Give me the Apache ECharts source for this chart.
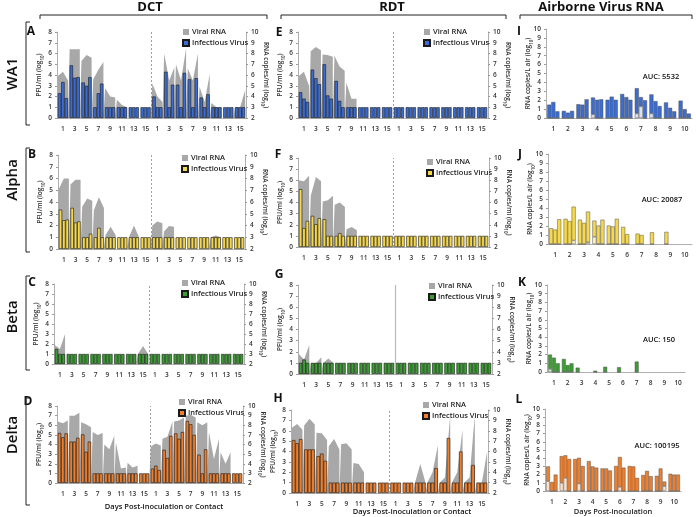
<!DOCTYPE html>
<html><head><meta charset="utf-8">
<script src="https://cdn.jsdelivr.net/npm/echarts@6/dist/echarts.min.js"></script>
<style>html,body{margin:0;padding:0;background:#fff}#c{width:696px;height:517px}</style>
</head><body><div id="c"></div>
<script>
// ---------- categories / tick labels ----------
const dayLabels = ['1','3','5','7','9','11','13','15','1','3','5','7','9','11','13','15'];
const airDays = ['1','2','3','4','5','6','7','8','9','10'];

// ---------- Infectious virus, PFU/ml (log10): 16 sample days (8 inoculated | 8 contact) x 3 animals ----------
const pfuA = [[2.3,3.35,1.85],[4.9,3.75,3.8],[3.3,3.0,3.8],[1,2.3,3.2],[1,1,1],[1,1,1],[1,1,1],[1,1,1],
              [2.0,1,1],[4.3,1,3.1],[3.1,1,4.2],[3.6,1,3.7],[1.9,1,2.2],[1,1,1],[1,1,1],[1,1,1]];
const pfuE = [[2.4,1.8,1.5],[4.5,3.7,3.15],[5.0,2.1,1.8],[3.45,1.6,1],[1,1,1],[1,1,1],[1,1,1],[1,1,1],
              [1,1,1],[1,1,1],[1,1,1],[1,1,1],[1,1,1],[1,1,1],[1,1,1],[1,1,1]];
const pfuB = [[3.35,2.45,2.5],[3.5,2.25,2.35],[1,1,1.3],[1,1.8,1],[1,1,1],[1,1,1],[1,1,1],[1,1,1],
              [1,1,1],[1,1,1],[1,1,1],[1,1,1],[1,1,1],[1,1,1],[1,1,1],[1,1,1]];
const pfuF = [[5.2,1.7,2.35],[2.8,2.05,2.6],[2.5,1,1],[1,1.25,1],[1,1,1],[1,1,1],[1,1,1],[1,1,1],
              [1,1,1],[1,1,1],[1,1,1],[1,1,1],[1,1,1],[1,1,1],[1,1,1],[1,1,1]];
const pfuC = [[1.5,1,1],[1,1,1],[1,1,1],[1,1,1],[1,1,1],[1,1,1],[1,1,1],[1,1,1],
              [1,1,1],[1,1,1],[1,1,1],[1,1,1],[1,1,1],[1,1,1],[1,1,1],[1,1,1]];
const pfuG = [[1,1.3,1],[1,1,1],[1,1,1],[1,1,1],[1,1,1],[1,1,1],[1,1,1],[1,1,1],
              [1,1,1],[1,1,1],[1,1,1],[1,1,1],[1,1,1],[1,1,1],[1,1,1],[1,1,1]];
const pfuD = [[5.2,4.75,5.15],[4.3,4.3,4.7],[5.05,3.25,4.3],[1,1,1],[1,1,1],[1,1,1],[1,1,1],[1,1,1],
              [1.5,1.8,1.35],[3.45,2.6,4.9],[5.15,4.6,5.3],[6.45,6.1,5.0],[2.95,1,3.5],[1,1,1],[1,1,1],[1,1,1]];
const pfuH = [[5.1,4.8,5.2],[4.2,4.2,4.2],[3.55,3.8,3.1],[1,1,1],[1,1,1],[1,1,1],[1,1,1],[1,1,1],
              [1,1,1],[1,1,1],[1,1,1],[1,1,2.4],[1,1,5.3],[1,1,4.0],[1,1,2.7],[1,1,1]];

// ---------- Viral RNA, copies/ml (log10), right axis ----------
const rnaA = [[5.9,6.3,5.5],[8.4,8.4,8.4],[7.3,7.85,7.6],[5.6,6.5,7.2],[4.8,4.0,3.9],[3.7,3.2,3.0],[2,2,2],[2,2,2],
              [5.2,4.0,3.5],[8.0,5.5,6.7],[7.0,5.5,8.5],[6.6,5.5,8.0],[4.9,3.5,6.1],[3.4,3,3],[2,2,2],[3,3,4.6]];
const rnaE = [[5.9,6.3,5.0],[8.2,8.6,8.3],[7.9,7.85,7.7],[7.8,6.8,6.4],[5.3,3.8,3.8],[2,2,2],[2,2,2],[2,2,2],
              [2,2,2],[2,2,2],[2,2,2],[2,2,2],[2,2,2],[2,2,2],[2,2,2],[2,2,2]];
const rnaB = [[7.1,8.0,8.0],[7.5,7.9,7.9],[5.6,6.3,6.1],[5.3,6.4,5.5],[3.2,3.9,3.2],[2,2,2],[3,4.0,3],[2,2,2],
              [4.0,4.35,4.2],[3.5,3.95,3.9],[2,2,2],[2,2,2],[2,2,2],[3,3.15,3],[2,2,2],[2,2,2]];
const rnaF = [[8.0,7.9,8.4],[6.6,8.3,7.9],[6.1,6.2,6.6],[5.8,6.0,5.6],[3.6,3.8,3.5],[2,2,2],[2,2,2],[2,2,2],
              [2,2,2],[2,2,2],[2,2,2],[2,2,2],[2,2,2],[2,2,2],[2,2,2],[2,2,2]];
const rnaC = [[3.9,3.5,5.0],[2,2,2],[2,2,2],[2,2,2],[2,2,2],[2,2,2],[2,2,2],[3,3.8,3],
              [2,2,2],[2,2,2],[2,2,2],[2,2,2],[2,2,2],[2,2,2],[2,2,2],[2,2,2]];
const rnaG = [[3.8,3.3,4.6],[3,3,3.5],[3,3.4,3],[2,2,2],[2,2,2],[2,2,2],[2,2,2],[2,2,2],
              [2,2,2],[2,2,2],[2,2,2],[2,2,2],[2,2,2],[2,2,2],[2,2,2],[2,2,2]];
const rnaD = [[8.4,8.2,8.5],[9.0,9.0,9.3],[8.3,8.1,7.8],[7.3,7.0,7.2],[6.0,5.5,6.9],[6.2,3.5,3.6],[4.1,3.6,3.8],[2,2,2],
              [5.8,6.1,5.9],[6.6,6.8,8.4],[8.4,8.5,8.8],[9.0,9.1,8.8],[8.3,8.0,8.3],[7.3,4.5,6.6],[5.2,4.0,5.2],[2,2,2]];
const rnaH = [[8.3,8.65,8.1],[8.5,9.15,8.6],[7.8,7.75,7.1],[6.5,7.2,6.2],[6.7,6.8,6.2],[4.9,4.8,4.0],[2,2,2],[2,2,2],
              [2,2,2],[2,2,2],[3,4.8,3],[3,4.0,6.6],[3,3.5,9.5],[3,4.0,8.1],[3,3.5,9.5],[3,3,6.0]];

// ---------- Airborne virus RNA, copies/L air (log10): 10 days x 3 samples ----------
const airI = [[1.5,1.8,0.75],[0.8,0.6,0.8],[1.55,1.5,2.1],[2.3,2.05,2.1],[2.05,2.4,2.05],[2.7,2.35,2.05],[3.35,2.35,2.0],[2.65,1.9,1.35],[1.75,1.15,0.75],[1.95,1.0,0.5]];
const airJ = [[1.75,1.6,2.75],[2.8,2.55,4.15],[2.7,2.35,3.6],[2.6,2.05,2.7],[2.05,1.95,2.8],[1.9,1.1,null],[1.15,1.0,null],[1.3,null,null],[1.35,null,null],[null,null,null]];
const airK = [[2.0,1.65,1.0],[1.5,0.8,1.0],[0.5,null,null],[null,0.15,null],[0.6,null,null],[0.55,null,null],[null,1.2,null],[null,null,null],[null,null,null],[null,null,null]];
const airL = [[3.0,1.1,2.0],[4.25,4.35,3.9],[3.9,4.05,3.05],[3.65,3.0,2.85],[2.75,2.75,2.5],[3.05,4.15,2.85],[3.05,3.0,1.6],[1.95,2.45,1.8],[1.85,2.75,1.15],[2.1,2.0,2.0]];
// lower (hatched) portions: [day, sample (0-2), value]
const hatchI = [[4,0,0.4],[7,0,0.5],[7,1,1.3],[8,0,0.5]];
const hatchJ = [[2,2,0.4],[3,2,0.2],[4,0,0.8]];
const hatchK = [[1,0,0.35]];
const hatchL = [[1,0,1.2],[2,0,1.0],[2,1,1.6],[3,1,0.9],[6,1,0.5],[9,2,0.6]];
const aucLabels = ['AUC: 5532','AUC: 20087','AUC: 150','AUC: 100195'];

// ---------- styling ----------
const FONT = 'Open Sans';
const COL = {WA1:'#3c6cd0', Alpha:'#f5d84e', Beta:'#3b9d33', Delta:'#ee7f2e'};
const HATCH = {WA1:'#d9e2f5', Alpha:'#fcf3c6', Beta:'#d4ecd0', Delta:'#fbe0cb'};
const GREY = '#a8a8a8';
const AXC = '#9a9a9a';
const lbl = {fontSize:6.5, color:'#333', fontFamily:FONT, fontWeight:600};

const panels = [
  {id:'A', pfu:pfuA, rna:rnaA, col:COL.WA1,   box:[57,32,189,86],  leg:[182,28]},
  {id:'E', pfu:pfuE, rna:rnaE, col:COL.WA1,   box:[298,32,190,86], leg:[423,28]},
  {id:'B', pfu:pfuB, rna:rnaB, col:COL.Alpha, box:[58,155,187,94], leg:[181,154]},
  {id:'F', pfu:pfuF, rna:rnaF, col:COL.Alpha, box:[298,158,191,89],leg:[426,158]},
  {id:'C', pfu:pfuC, rna:rnaC, col:COL.Beta,  box:[54,284,190,80], leg:[181,279]},
  {id:'G', pfu:pfuG, rna:rnaG, col:COL.Beta,  box:[298,285,194,89],leg:[428,282], solidDiv:true},
  {id:'D', pfu:pfuD, rna:rnaD, col:COL.Delta, box:[57,406,186,77], leg:[178,398]},
  {id:'H', pfu:pfuH, rna:rnaH, col:COL.Delta, box:[291,410,197,83],leg:[422,401]}
];
const airPanels = [
  {id:'I', d:airI, h:hatchI, col:COL.WA1,   hc:HATCH.WA1,   box:[546,29,146,89]},
  {id:'J', d:airJ, h:hatchJ, col:COL.Alpha, hc:HATCH.Alpha, box:[548,154,144,90]},
  {id:'K', d:airK, h:hatchK, col:COL.Beta,  hc:HATCH.Beta,  box:[547,285,138,87]},
  {id:'L', d:airL, h:hatchL, col:COL.Delta, hc:HATCH.Delta, box:[545,409,136,83]}
];

const grid=[], xAxis=[], yAxis=[], series=[], legend=[];
const sub = {s:{fontSize:4.5, fontFamily:FONT, fontWeight:600, color:'#333', verticalAlign:'bottom', padding:[0,0,-2,0]}};

panels.forEach((p,i)=>{
  const [l,t,w,h]=p.box;
  grid.push({left:l, top:t, width:w, height:h});
  const gi = grid.length-1;
  const xc = xAxis.length;
  xAxis.push({type:'category', gridIndex:gi, data:dayLabels, boundaryGap:true,
    axisLine:{lineStyle:{color:AXC,width:0.8}}, axisTick:{show:false},
    axisLabel:{...lbl, interval:0, margin:8}});
  xAxis.push({type:'value', gridIndex:gi, min:0, max:16, show:false});
  const yl = yAxis.length;
  yAxis.push({type:'value', gridIndex:gi, min:0, max:8, interval:1, position:'left',
    axisLine:{show:true, lineStyle:{color:AXC,width:0.8}}, axisTick:{show:true,length:2,lineStyle:{color:AXC}},
    splitLine:{show:false}, axisLabel:{...lbl, margin:5},
    name:'PFU/ml (log{s|10})', nameLocation:'middle', nameGap:14, nameRotate:90, nameMoveOverlap:false,
    nameTextStyle:{fontSize:6.5, fontFamily:FONT, fontWeight:600, color:'#333', rich:sub}});
  yAxis.push({type:'value', gridIndex:gi, min:2, max:10, interval:1, position:'right',
    axisLine:{show:true, lineStyle:{color:AXC,width:0.8}}, axisTick:{show:true,length:2,lineStyle:{color:AXC}},
    splitLine:{show:false}, axisLabel:{...lbl, margin:5},
    name:'RNA copies/ml (log{s|10})', nameLocation:'middle', nameGap:16, nameRotate:-90, nameMoveOverlap:false,
    nameTextStyle:{fontSize:6.5, fontFamily:FONT, fontWeight:600, color:'#333', rich:sub}});
  // viral RNA area: per-animal points within each sampling day
  const pts=[];
  p.rna.forEach((r,g)=>{
    pts.push([g+0.07,2],[g+0.07,r[0]],[g+0.5,r[1]],[g+0.93,r[2]],[g+0.93,2]);
  });
  series.push({type:'line', name:'Viral RNA|'+p.id, xAxisIndex:xc+1, yAxisIndex:yl+1, data:pts,
    showSymbol:false, symbol:'none', lineStyle:{width:0}, color:GREY, itemStyle:{color:GREY},
    areaStyle:{color:GREY, opacity:1}, z:1, silent:true, animation:false,
    markLine:{silent:true, symbol:'none', label:{show:false},
      lineStyle: p.solidDiv ? {color:'#bbb', type:'solid', width:1.2} : {color:'#888', type:[2,2], width:0.8},
      data:[{xAxis:8}]}});
  for(let k=0;k<3;k++){
    series.push({type:'bar', name:'Infectious Virus|'+p.id, xAxisIndex:xc, yAxisIndex:yl,
      data:p.pfu.map(g=>g[k]), barGap:'0%', barCategoryGap:'14%',
      itemStyle:{color:p.col, borderColor:'#1a1a1a', borderWidth:0.6}, z:3, animation:false});
  }
  legend.push({orient:'vertical', left:p.leg[0], top:p.leg[1], itemWidth:6, itemHeight:6, itemGap:3,
    icon:'rect', selectedMode:false, padding:0,
    data:['Viral RNA|'+p.id, 'Infectious Virus|'+p.id],
    formatter:n=>n.split('|')[0],
    textStyle:{fontSize:7.5, fontFamily:FONT, fontWeight:600, color:'#222', padding:[0,0,0,-2]}});
});

airPanels.forEach((p,i)=>{
  const [l,t,w,h]=p.box;
  grid.push({left:l, top:t, width:w, height:h});
  const gi = grid.length-1;
  const xc = xAxis.length;
  xAxis.push({type:'category', gridIndex:gi, data:airDays, boundaryGap:true,
    axisLine:{lineStyle:{color:AXC,width:0.8}}, axisTick:{show:false},
    axisLabel:{...lbl, interval:0, margin:8},
    name: p.id==='L' ? 'Days Post-inoculation' : '', nameLocation:'middle', nameGap:17,
    nameTextStyle:{fontSize:7.5, fontFamily:FONT, fontWeight:600, color:'#222'}});
  const yl = yAxis.length;
  yAxis.push({type:'value', gridIndex:gi, min:0, max:10, interval:1,
    axisLine:{show:true, lineStyle:{color:AXC,width:0.8}}, axisTick:{show:true,length:2,lineStyle:{color:AXC}},
    splitLine:{show:false}, axisLabel:{...lbl, margin:5},
    name:'RNA copies/L air (log{s|10})', nameLocation:'middle', nameGap:14, nameRotate:90, nameMoveOverlap:false,
    nameTextStyle:{fontSize:6.5, fontFamily:FONT, fontWeight:600, color:'#333', rich:sub}});
  for(let k=0;k<3;k++){
    const low = p.d.map((g,di)=>{ const m=p.h.find(e=>e[0]===di+1 && e[1]===k); return m? m[2] : 0; });
    series.push({type:'bar', xAxisIndex:xc, yAxisIndex:yl, stack:p.id+k,
      data:low.map((v,di)=> p.d[di][k]==null?null:v), barGap:'0%', barCategoryGap:'16%',
      itemStyle:{color:p.hc, borderColor:'#555', borderWidth:0.5}, animation:false});
    series.push({type:'bar', xAxisIndex:xc, yAxisIndex:yl, stack:p.id+k,
      data:p.d.map((g,di)=> g[k]==null?null:+(g[k]-low[di]).toFixed(2)), barGap:'0%', barCategoryGap:'16%',
      itemStyle:{color:p.col, borderColor:'#555', borderWidth:0.5}, animation:false});
  }
});

// ---------- text / brackets ----------
const T = (txt,x,y,size,opt={})=>({type:'text', x, y, style:{text:txt, fontSize:size, fontFamily:FONT,
  fontWeight:opt.w||700, fill:'#111', align:opt.a||'center', verticalAlign:'middle', rich:opt.rich}, rotation:opt.r||0});
const graphic = [
  T('DCT',150,7,13), T('RDT',392,7,13), T('Airborne Virus RNA',601,7,13),
  {type:'polyline', shape:{points:[[40,19],[40,15],[267,15],[267,19]]}, style:{stroke:'#222',lineWidth:1,fill:null}},
  {type:'polyline', shape:{points:[[281,19],[281,15],[506,15],[506,19]]}, style:{stroke:'#222',lineWidth:1,fill:null}},
  {type:'polyline', shape:{points:[[520,19],[520,15],[692,15],[692,19]]}, style:{stroke:'#222',lineWidth:1,fill:null}},
  T('WA1',13,74,15,{r:Math.PI/2,w:600}), T('Alpha',13,180,15,{r:Math.PI/2,w:600}),
  T('Beta',13,317,15,{r:Math.PI/2,w:600}), T('Delta',13,435,15,{r:Math.PI/2,w:600}),
  T('A',31,32,12), T('B',32,155,12), T('C',32,283,12), T('D',28,402,12),
  T('E',279,33,12), T('F',278,155,12), T('G',279,275,12), T('H',278,399,12),
  T('I',519,32,12), T('J',520,155,12), T('K',522,283,12), T('L',519,400,12),
  T(aucLabels[0],661,77,7.5,{w:600}), T(aucLabels[1],662,200,7.5,{w:600}),
  T(aucLabels[2],659,340,7.5,{w:600}), T(aucLabels[3],657,446,7.5,{w:600}),
  T('Days Post-inoculation or Contact',164,507,7.5,{w:600}),
  T('Days Post-Inoculation or Contact',412,512,7.5,{w:600})
];
[[22,125],[148,252],[276,370],[398,505]].forEach(([a,b])=>{
  graphic.push({type:'polyline', shape:{points:[[30,a],[26,a],[26,b],[30,b]]}, style:{stroke:'#222',lineWidth:1,fill:null}});
});

const chart = echarts.init(document.getElementById('c'), null, {renderer:'canvas'});
chart.setOption({animation:false, backgroundColor:'#fff', grid, xAxis, yAxis, series, legend, graphic});
</script></body></html>
